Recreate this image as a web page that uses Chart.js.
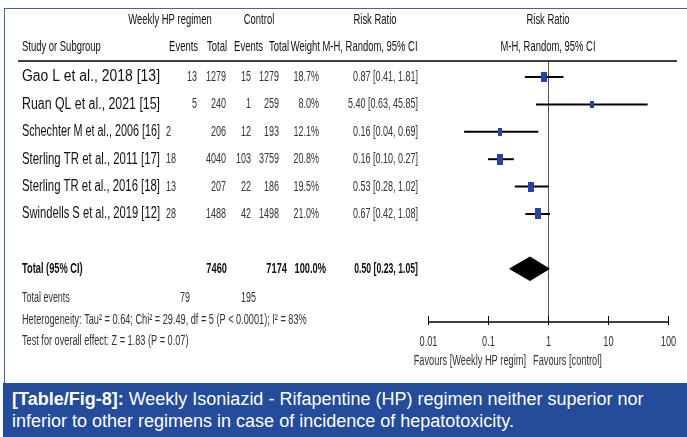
<!DOCTYPE html>
<html>
<head>
<meta charset="utf-8">
<script src="https://cdn.jsdelivr.net/npm/chart.js@4.4.1/dist/chart.umd.min.js"></script>
<style>
html, body { margin: 0; padding: 0; background: #fff; width: 687px; height: 437px; overflow: hidden; font-family: "Liberation Sans", Arial, sans-serif; }
#frame { position: absolute; left: 4px; top: 8px; width: 720px; height: 380px; border-top: 1.5px solid #4660ad; border-left: 1.5px solid #4660ad; box-sizing: border-box; }
#wrap { position: absolute; left: 0; top: 0; width: 687px; height: 383px; }
#caption { position: absolute; left: 3px; top: 383px; width: 684px; height: 54px; background: #254b9b; color: #fff; font-size: 18px; line-height: 22px; padding: 5px 0 0 9px; box-sizing: border-box; white-space: nowrap; }
</style>
</head>
<body>
<div id="frame"></div>
<div id="wrap"><canvas id="forest" width="687" height="383"></canvas></div>
<div id="caption"><b>[Table/Fig-8]:</b> Weekly Isoniazid - Rifapentine (HP) regimen neither superior nor<br>inferior to other regimens in case of incidence of hepatotoxicity.</div>
<script>
// Données du forest plot
const studies = ['Gao L et al., 2018 [13]', 'Ruan QL et al., 2021 [15]', 'Schechter M et al., 2006 [16]',
                 'Sterling TR et al., 2011 [17]', 'Sterling TR et al., 2016 [18]', 'Swindells S et al., 2019 [12]'];
const hpEvents = [13, 5, 2, 18, 13, 28];
const hpTotal = [1279, 240, 206, 4040, 207, 1488];
const ctrlEvents = [15, 1, 12, 103, 22, 42];
const ctrlTotal = [1279, 259, 193, 3759, 186, 1498];
const weights = [18.7, 8.0, 12.1, 20.8, 19.5, 21.0];
const riskRatio = [0.87, 5.40, 0.16, 0.16, 0.53, 0.67];
const ciLow = [0.41, 0.63, 0.04, 0.10, 0.28, 0.42];
const ciHigh = [1.81, 45.85, 0.69, 0.27, 1.02, 1.08];
const pooledRR = 0.50, pooledLow = 0.23, pooledHigh = 1.05;
const totalHp = 7460, totalCtrl = 7174, totalWeight = '100.0%';
const eventsHp = 79, eventsCtrl = 195;
const heterogeneity = 'Heterogeneity: Tau² = 0.64; Chi² = 29.49, df = 5 (P < 0.0001); I² = 83%';
const overallTest = 'Test for overall effect: Z = 1.83 (P = 0.07)';
const tickVals = [0.01, 0.1, 1, 10, 100];
const tickLabels = ['0.01', '0.1', '1', '10', '100'];

// Mise en page
const FONT = '"Liberation Sans", Arial, sans-serif';
const BLUE = '#2642a3';
const hpEvRight = [197, 197, 171, 176, 176, 176];
const totalRow = 7;

function txt(ctx, s, x, y, align, size, weight, sx, color, maxW) {
    ctx.save();
    ctx.font = weight + ' ' + size + 'px ' + FONT;
    ctx.fillStyle = color;
    ctx.textBaseline = 'middle';
    ctx.textAlign = 'left';
    let w = ctx.measureText(s).width;
    if (maxW && w > maxW) { sx = maxW / w; }
    w *= sx;
    const left = align === 'right' ? x - w : align === 'center' ? x - w / 2 : x;
    ctx.translate(left, y);
    ctx.scale(sx, 1);
    ctx.fillText(s, 0, 0);
    ctx.restore();
}

function boxImage(weight) {
    const h = Math.round(4 + weight * 0.32);
    const w = Math.max(3, Math.round(h * 0.55));
    const c = document.createElement('canvas');
    c.width = w; c.height = h;
    const g = c.getContext('2d');
    g.fillStyle = BLUE;
    g.fillRect(0, 0, w, h);
    return c;
}

const fmt = v => v.toFixed(2);

const forestText = {
    id: 'forestText',
    beforeDatasetsDraw(chart) {
        const ctx = chart.ctx, xs = chart.scales.x, a = chart.chartArea;
        const x1 = Math.round(xs.getPixelForValue(1)) + 0.5;
        ctx.save();
        ctx.strokeStyle = '#555';
        ctx.lineWidth = 1;
        ctx.beginPath();
        ctx.moveTo(x1, a.top);
        ctx.lineTo(x1, a.bottom);
        ctx.stroke();
        ctx.restore();
    },
    afterDraw(chart) {
        const ctx = chart.ctx, xs = chart.scales.x, ys = chart.scales.y, a = chart.chartArea;
        const dark = '#111', grey = '#333';
        const hs = 15, hx = 0.63;

        // En-têtes
        txt(ctx, 'Weekly HP regimen', 170, 20, 'center', hs, 'normal', hx, dark);
        txt(ctx, 'Control', 259, 20, 'center', hs, 'normal', hx, dark);
        txt(ctx, 'Risk Ratio', 375, 20, 'center', hs, 'normal', hx, dark);
        txt(ctx, 'Risk Ratio', xs.getPixelForValue(1), 20, 'center', hs, 'normal', hx, dark);
        txt(ctx, 'Study or Subgroup', 22, 47, 'left', hs, 'normal', hx, dark);
        txt(ctx, 'Events', 198, 47, 'right', hs, 'normal', hx, dark);
        txt(ctx, 'Total', 227, 47, 'right', hs, 'normal', hx, dark);
        txt(ctx, 'Events', 263, 47, 'right', hs, 'normal', hx, dark);
        txt(ctx, 'Total', 289, 47, 'right', hs, 'normal', hx, dark);
        txt(ctx, 'Weight', 320, 47, 'right', hs, 'normal', hx, dark);
        txt(ctx, 'M-H, Random, 95% CI', 370, 47, 'center', hs, 'normal', hx, dark);
        txt(ctx, 'M-H, Random, 95% CI', xs.getPixelForValue(1), 47, 'center', hs, 'normal', hx, dark);

        ctx.save();
        ctx.strokeStyle = '#000';
        ctx.lineWidth = 1.5;
        ctx.beginPath();
        ctx.moveTo(18, a.top);
        ctx.lineTo(677, a.top);
        ctx.stroke();
        ctx.restore();

        // Lignes des études
        const ns = 14.5, nx = 0.62;
        studies.forEach((name, i) => {
            const y = ys.getPixelForValue(i);
            txt(ctx, name, 22, y, 'left', 16, 'normal', 1, dark, 138);
            txt(ctx, String(hpEvents[i]), hpEvRight[i], y, 'right', ns, 'normal', nx, grey);
            txt(ctx, String(hpTotal[i]), 226, y, 'right', ns, 'normal', nx, grey);
            txt(ctx, String(ctrlEvents[i]), 251, y, 'right', ns, 'normal', nx, grey);
            txt(ctx, String(ctrlTotal[i]), 279, y, 'right', ns, 'normal', nx, grey);
            txt(ctx, weights[i].toFixed(1) + '%', 319, y, 'right', ns, 'normal', nx, grey);
            txt(ctx, fmt(riskRatio[i]) + ' [' + fmt(ciLow[i]) + ', ' + fmt(ciHigh[i]) + ']', 418, y, 'right', ns, 'normal', nx, grey);
        });

        // Total
        const yt = ys.getPixelForValue(totalRow);
        txt(ctx, 'Total (95% CI)', 22, yt, 'left', 14.5, 'bold', 0.64, dark);
        txt(ctx, String(totalHp), 227, yt, 'right', 14.5, 'bold', 0.64, dark);
        txt(ctx, String(totalCtrl), 287, yt, 'right', 14.5, 'bold', 0.64, dark);
        txt(ctx, totalWeight, 326, yt, 'right', 14.5, 'bold', 0.64, dark);
        txt(ctx, fmt(pooledRR) + ' [' + fmt(pooledLow) + ', ' + fmt(pooledHigh) + ']', 418, yt, 'right', 14.5, 'bold', 0.6, dark);

        txt(ctx, 'Total events', 22, 298, 'left', 14, 'normal', 0.64, grey);
        txt(ctx, String(eventsHp), 190, 298, 'right', 14, 'normal', 0.64, grey);
        txt(ctx, String(eventsCtrl), 256, 298, 'right', 14, 'normal', 0.64, grey);
        txt(ctx, heterogeneity, 22, 320, 'left', 14, 'normal', 0.655, grey);
        txt(ctx, overallTest, 22, 341, 'left', 14, 'normal', 0.655, grey);

        // Axe logarithmique
        const y0 = a.bottom;
        ctx.save();
        ctx.strokeStyle = '#000';
        ctx.lineWidth = 1.5;
        ctx.beginPath();
        ctx.moveTo(xs.getPixelForValue(tickVals[0]), y0);
        ctx.lineTo(xs.getPixelForValue(tickVals[tickVals.length - 1]), y0);
        ctx.stroke();
        ctx.lineWidth = 1;
        tickVals.forEach((v, k) => {
            const x = Math.round(xs.getPixelForValue(v)) + 0.5;
            ctx.beginPath();
            ctx.moveTo(x, y0 - 6);
            ctx.lineTo(x, y0 + 3);
            ctx.stroke();
            txt(ctx, tickLabels[k], x, y0 + 20, 'center', 14, 'normal', 0.66, grey);
        });
        ctx.restore();
        txt(ctx, 'Favours [Weekly HP regim]', 526, 361, 'right', 14, 'normal', 0.66, grey);
        txt(ctx, 'Favours [control]', 533, 361, 'left', 14, 'normal', 0.66, grey);
    }
};

const datasets = [];
studies.forEach((s, i) => {
    datasets.push({
        data: [{ x: ciLow[i], y: i }, { x: ciHigh[i], y: i }],
        showLine: true, borderColor: '#000', borderWidth: 2,
        pointRadius: 0, order: 2
    });
});
datasets.push({
    data: riskRatio.map((v, i) => ({ x: v, y: i })),
    pointStyle: weights.map(boxImage),
    pointRadius: 5, order: 1
});
const dh = 0.43;
datasets.push({
    data: [{ x: pooledLow, y: totalRow }, { x: pooledRR, y: totalRow - dh }, { x: pooledHigh, y: totalRow },
           { x: pooledRR, y: totalRow + dh }, { x: pooledLow, y: totalRow }],
    showLine: true, fill: 'shape', backgroundColor: '#000', borderColor: '#000', borderWidth: 1,
    pointRadius: 0, tension: 0, order: 1
});

new Chart(document.getElementById('forest'), {
    type: 'scatter',
    data: { datasets: datasets },
    options: {
        responsive: false,
        animation: false,
        devicePixelRatio: 1,
        layout: { padding: { left: 428, right: 19, top: 61, bottom: 61 } },
        plugins: { legend: { display: false }, tooltip: { enabled: false } },
        scales: {
            x: { type: 'logarithmic', min: 0.01, max: 100, display: false },
            y: { type: 'linear', reverse: true, min: -0.584, max: 8.942, display: false }
        }
    },
    plugins: [forestText]
});
</script>
</body>
</html>
